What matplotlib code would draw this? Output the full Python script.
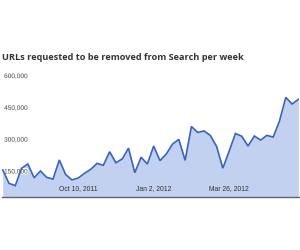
import matplotlib
matplotlib.use("Agg")
import matplotlib.pyplot as plt
import matplotlib.patheffects as pe
import numpy as np
import datetime as dt
import matplotlib.dates as mdates

title = "URLs requested to be removed from Search per week"
start_date = dt.date(2011, 7, 18)
values = [155000, 92000, 81000, 163000, 183000, 118000, 150000, 120000,
          112000, 202000, 134000, 108000, 117000, 139000, 158000, 186000,
          177000, 241000, 189000, 207000, 258000, 142000, 215000, 183000,
          268000, 199000, 230000, 277000, 299000, 200000, 360000, 332000,
          339000, 318000, 266000, 163000, 244000, 327000, 314000, 268000,
          315000, 296000, 318000, 310000, 386000, 497000, 466000, 488000]
dates = [start_date + dt.timedelta(weeks=i) for i in range(len(values))]
y_ticks = [150000, 300000, 450000, 600000]
y_tick_labels = ["150,000", "300,000", "450,000", "600,000"]
x_ticks = [dt.date(2011, 10, 10), dt.date(2012, 1, 2), dt.date(2012, 3, 26)]
x_tick_labels = ["Oct 10, 2011", "Jan 2, 2012", "Mar 26, 2012"]

fig = plt.figure(figsize=(3, 2.5), dpi=100)
ax = fig.add_axes([2/300, (250-197.3)/250, 297/300, (197.3-65)/250])

xd = mdates.date2num(dates)
ymin, ymax = 26000, 650000
ax.fill_between(xd, values, ymin, color="#c2d1f0", lw=0)
ax.plot(xd, values, color="#3a62c0", lw=1.2, solid_joinstyle="miter")

x0 = xd[0] - 0.11 * 7
x1 = xd[-1] + 0.1 * 7
ax.set_xlim(x0, x1)
ax.set_ylim(ymin, ymax)

for s in ["top", "right", "left"]:
    ax.spines[s].set_visible(False)
ax.spines["bottom"].set_color("#5a6478")
ax.spines["bottom"].set_linewidth(1.0)

ax.set_xticks(mdates.date2num(x_ticks))
ax.set_xticklabels(x_tick_labels, fontsize=4.9, color="#333333",
                   fontfamily="Liberation Sans")
ax.tick_params(axis="x", length=0, pad=-8.5)

ax.set_yticks(y_ticks)
ax.set_yticklabels(y_tick_labels, fontsize=4.7, color="#444444",
                   fontfamily="Liberation Sans")
ax.tick_params(axis="y", length=0, pad=-1.5)
for lab in ax.get_yticklabels():
    lab.set_horizontalalignment("left")
    lab.set_path_effects([pe.withStroke(linewidth=1.5, foreground="white")])
    lab.set_zorder(5)

fig.text(2/300, 1 - 57/250, title, fontsize=6.6, fontweight="bold",
         fontfamily="Open Sans", color="#333333", va="center", ha="left")

fig.savefig("out.png", dpi=100)
